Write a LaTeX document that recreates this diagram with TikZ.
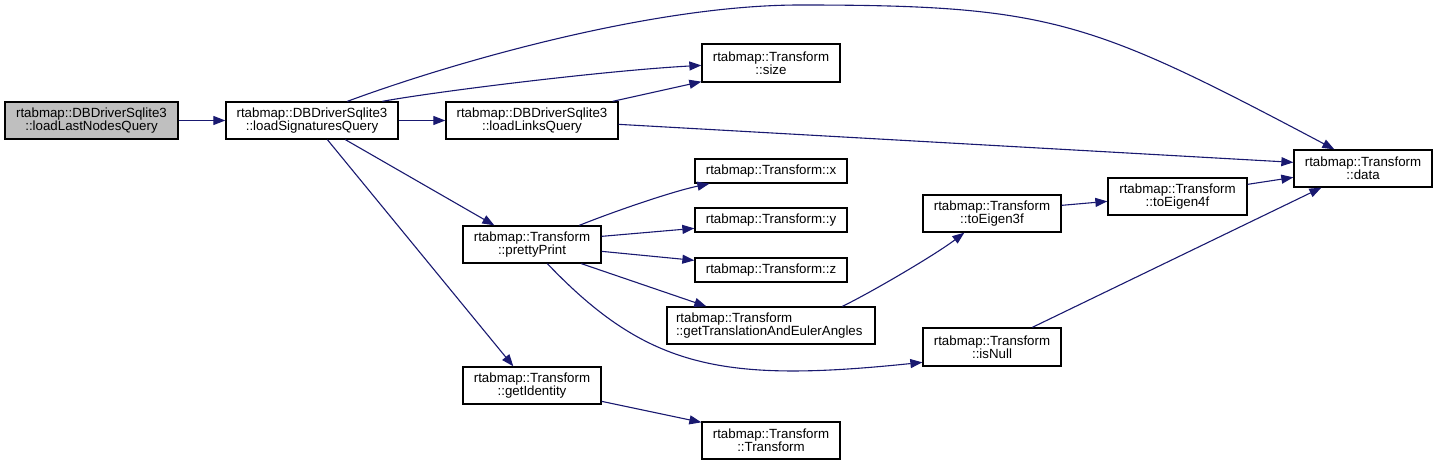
\documentclass[tikz,border=0pt]{standalone}
\usepackage{fontspec}
\setmainfont{Liberation Sans}
\usetikzlibrary{arrows.meta,calc}
\definecolor{edgeblue}{HTML}{191970}
\definecolor{rootgray}{HTML}{BFBFBF}
\tikzset{
  fn/.style={draw=black, line width=1.3pt, fill=white, inner sep=0pt, align=center,
    minimum height=37pt, text width=#1, minimum width=#1,
    font=\fontsize{13.3pt}{13.2pt}\selectfont},
  fn/.default=138pt,
  fnone/.style={fn=152pt, minimum height=24pt},
  rootfn/.style={fn=173pt, fill=rootgray},
  call/.style={draw=edgeblue, line width=1.1pt, -{Triangle[length=12pt,width=9pt]}, fill=none}
}
\begin{document}
\begin{tikzpicture}[x=1pt,y=-1pt]
\useasboundingbox (0,0) rectangle (1438,465);
% nodes
\node[rootfn] (last) at (91.5,120.5) {rtabmap::DBDriverSqlite3\\::loadLastNodesQuery};
\node[fn=172pt] (sig) at (312,120.5) {rtabmap::DBDriverSqlite3\\::loadSignaturesQuery};
\node[fn=172pt] (links) at (532,120.5) {rtabmap::DBDriverSqlite3\\::loadLinksQuery};
\node[fn, minimum height=38pt] (size) at (771,63) {rtabmap::Transform\\::size};
\node[fn] (data) at (1363,168.5) {rtabmap::Transform\\::data};
\node[fnone] (tx) at (771,171) {rtabmap::Transform::x};
\node[fnone] (ty) at (771,220) {rtabmap::Transform::y};
\node[fnone] (tz) at (771,270) {rtabmap::Transform::z};
\node[fn] (pretty) at (532,244.5) {rtabmap::Transform\\::prettyPrint};
\node[fn=208pt, align=left, text width=190pt] (gt) at (771,325.5) {rtabmap::Transform\\::getTranslationAndEulerAngles};
\node[fn] (te3) at (992,213.5) {rtabmap::Transform\\::toEigen3f};
\node[fn=139pt] (te4) at (1177.5,196.5) {rtabmap::Transform\\::toEigen4f};
\node[fn, minimum height=38pt] (isnull) at (992,347) {rtabmap::Transform\\::isNull};
\node[fn] (getid) at (532,385.5) {rtabmap::Transform\\::getIdentity};
\node[fn] (tr) at (771,440.5) {rtabmap::Transform\\::Transform};
% edges
\draw[call] (last.east) -- (sig.west);
\draw[call] (sig.east) -- (links.west);
\draw[call] ($(sig.north west)+(122,0)$) .. controls (448,64) and (650,5) .. (800,5)
  .. controls (1050,5) and (1090,20) .. ($(data.north west)+(41,0)$);
\draw[call] ($(sig.north west)+(157,0)$) .. controls (433,92) and (600,71) .. ($(size.north west)+(0,22)$);
\draw[call] ($(links.north east)+(-6,0)$) -- ($(size.south west)+(0,-1)$);
\draw[call] ($(links.north east)+(0,23)$) -- ($(data.north west)+(0,13)$);
\draw[call] ($(sig.south west)+(120,0)$) -- ($(pretty.north west)+(32,0)$);
\draw[call] ($(sig.south west)+(102,0)$) -- ($(getid.north west)+(51,0)$);
\draw[call] ($(pretty.north west)+(117,0)$) .. controls (610,213) and (670,192) .. ($(tx.south west)+(15,0)$);
\draw[call] ($(pretty.north east)+(0,11)$) -- ($(ty.north west)+(0,21)$);
\draw[call] ($(pretty.north east)+(0,26)$) -- ($(tz.north west)+(0,3)$);
\draw[call] ($(pretty.south west)+(119,0)$) -- ($(gt.north west)+(40,0)$);
\draw[call] ($(pretty.south west)+(85,0)$) .. controls (648,369) and (723,383) .. ($(isnull.north west)+(0,35)$);
\draw[call] ($(gt.north west)+(176,0)$) .. controls (870,293) and (935,255) .. ($(te3.south west)+(42,0)$);
\draw[call] ($(te3.north east)+(0,11)$) -- ($(te4.north west)+(0,24)$);
\draw[call] ($(te4.north east)+(0,7)$) -- ($(data.north west)+(0,28)$);
\draw[call] ($(isnull.north west)+(110,0)$) -- ($(data.south west)+(28,0)$);
\draw[call] ($(getid.north east)+(0,35)$) -- ($(tr.north west)+(0,1)$);
\end{tikzpicture}
\end{document}
